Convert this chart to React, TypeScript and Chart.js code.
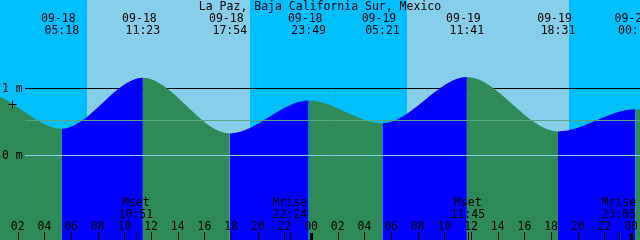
import React, { useEffect, useRef } from "react";
import { Chart, registerables } from "chart.js";

Chart.register(...registerables);

// ---- data ----
const title = "La Paz, Baja California Sur, Mexico";
const startTime = "09-18 00:40";
const endTime = "09-20 00:40";
const tideTimes = [
  "09-17 17:10", "09-17 23:24", "09-18 05:18", "09-18 11:23", "09-18 17:54",
  "09-18 23:49", "09-19 05:21", "09-19 11:41", "09-19 18:31", "09-20 00:19", "09-20 06:40",
];
const tideHeights = [0.3, 0.93, 0.39, 1.15, 0.32, 0.81, 0.47, 1.16, 0.35, 0.68, 0.55];
const sunriseTimes = ["09-18 07:12", "09-19 07:12"];
const sunsetTimes = ["09-18 19:24", "09-19 19:22"];
const moonNames = ["Mset", "Mrise", "Mset", "Mrise"];
const moonTimes = ["09-18 10:51", "09-18 22:24", "09-19 11:45", "09-19 23:05"];
const datumLevels = [1, 0];
const datumLabels = ["1 m", "0 m"];
const meanLevel = 0.52;
const markTime = "09-18 01:34";
const markHeight = 0.76;
const yMin = -1.27;
const yMax = 2.31;
const hourTickStep = 2;

const toHours = (s: string) => {
  const [md, hm] = s.split(" ");
  const day = parseInt(md.split("-")[1], 10);
  const [h, m] = hm.split(":").map((v) => parseInt(v, 10));
  return (day - 18) * 24 + h + m / 60;
};

const FONT = "11.5px 'DejaVu Sans Mono', 'Liberation Mono', monospace";
const NIGHT = "#00BFFF";
const DAY = "#87CEEB";
const RISE = "#0000FF";
const FALL = "#2E8B57";

export default function App() {
  const ref = useRef<HTMLCanvasElement | null>(null);

  useEffect(() => {
    if (!ref.current) return;
    const xMin = toHours(startTime);
    const xMax = toHours(endTime);
    const data = tideTimes.map((t, i) => ({ x: toHours(t), y: tideHeights[i] }));

    const decor = {
      id: "decor",
      beforeDatasetsDraw(chart: any) {
        const { ctx, chartArea, scales } = chart;
        const xs = scales.x;
        const ys = scales.y;
        ctx.save();
        // night background
        ctx.fillStyle = NIGHT;
        ctx.fillRect(chartArea.left, chartArea.top, chartArea.right - chartArea.left, chartArea.bottom - chartArea.top);
        ctx.fillStyle = DAY;
        sunriseTimes.forEach((r, i) => {
          const a = Math.round(xs.getPixelForValue(toHours(r)));
          const b = Math.round(xs.getPixelForValue(toHours(sunsetTimes[i])));
          ctx.fillRect(a, chartArea.top, b - a, chartArea.bottom - chartArea.top);
        });
        // upper datum line (under the tide)
        ctx.strokeStyle = "#000000";
        ctx.lineWidth = 1;
        const y1 = Math.round(ys.getPixelForValue(datumLevels[0])) + 0.5;
        ctx.beginPath();
        ctx.moveTo(25, y1);
        ctx.lineTo(chartArea.right, y1);
        ctx.stroke();
        ctx.restore();
      },
      afterDatasetsDraw(chart: any) {
        const { ctx, chartArea, scales } = chart;
        const xs = scales.x;
        const ys = scales.y;
        ctx.save();
        ctx.lineWidth = 1;
        // zero line
        const y0 = Math.round(ys.getPixelForValue(datumLevels[1])) + 0.5;
        ctx.strokeStyle = "#8ed3ec";
        ctx.beginPath();
        ctx.moveTo(25, y0);
        ctx.lineTo(chartArea.right, y0);
        ctx.stroke();
        // mean level
        const ym = Math.round(ys.getPixelForValue(meanLevel)) + 0.5;
        ctx.strokeStyle = "#5aa586";
        ctx.beginPath();
        ctx.moveTo(25, ym);
        ctx.lineTo(chartArea.right, ym);
        ctx.stroke();

        ctx.fillStyle = "#000000";
        ctx.strokeStyle = "#000000";
        ctx.font = FONT;
        // datum labels
        ctx.textAlign = "left";
        ctx.textBaseline = "middle";
        datumLevels.forEach((lv, i) => {
          ctx.fillText(datumLabels[i], 2, Math.round(ys.getPixelForValue(lv)) + 1);
        });
        // "+" mark
        const mx = Math.round(xs.getPixelForValue(toHours(markTime))) + 0.5;
        const my = Math.round(ys.getPixelForValue(markHeight)) + 0.5;
        ctx.beginPath();
        ctx.moveTo(mx - 4, my);
        ctx.lineTo(mx + 4, my);
        ctx.moveTo(mx, my - 4);
        ctx.lineTo(mx, my + 4);
        ctx.stroke();

        ctx.textBaseline = "alphabetic";
        ctx.textAlign = "center";
        // title
        ctx.fillText(title, (chartArea.left + chartArea.right) / 2, 10);
        // tide extreme labels
        tideTimes.forEach((t) => {
          const h = toHours(t);
          if (h < xMin || h > xMax) return;
          const x = xs.getPixelForValue(h);
          const [md, hm] = t.split(" ");
          ctx.fillText(md + " ", x, 22);
          ctx.fillText(hm, x, 34);
        });
        // moon events
        moonTimes.forEach((t, i) => {
          const h = toHours(t);
          const x = xs.getPixelForValue(h);
          ctx.fillText(moonNames[i], x, 206);
          ctx.fillText(t.split(" ")[1], x, 218);
          const px = Math.round(x) + 0.5;
          ctx.beginPath();
          ctx.moveTo(px, 232);
          ctx.lineTo(px, 240);
          ctx.stroke();
        });
        // hour ticks
        for (let h = Math.ceil(xMin / hourTickStep) * hourTickStep; h <= xMax; h += hourTickStep) {
          const x = xs.getPixelForValue(h);
          const hh = ((h % 24) + 24) % 24;
          ctx.fillText(String(hh).padStart(2, "0"), x, 230);
          if (hh === 0) {
            ctx.fillRect(Math.round(x) - 1, 233, 3, 7);
          } else {
            const px = Math.round(x) + 0.5;
            ctx.beginPath();
            ctx.moveTo(px, 232);
            ctx.lineTo(px, 240);
            ctx.stroke();
          }
        }
        ctx.restore();
      },
    };

    const chart = new Chart(ref.current, {
      type: "line",
      data: {
        datasets: [
          {
            data,
            fill: "start",
            borderWidth: 0,
            borderColor: "rgba(0,0,0,0)",
            backgroundColor: FALL,
            pointRadius: 0,
            cubicInterpolationMode: "monotone",
            segment: {
              backgroundColor: (c: any) => (c.p1.parsed.y > c.p0.parsed.y ? RISE : FALL),
            },
          } as any,
        ],
      },
      options: {
        animation: false,
        responsive: false,
        devicePixelRatio: 1,
        events: [],
        layout: { padding: 0 },
        plugins: { legend: { display: false }, tooltip: { enabled: false } },
        scales: {
          x: { type: "linear", min: xMin, max: xMax, display: false },
          y: { type: "linear", min: yMin, max: yMax, display: false },
        },
      },
      plugins: [decor],
    });
    return () => chart.destroy();
  }, []);

  return (
    <div style={{ position: "fixed", left: 0, top: 0, width: 640, height: 240 }}>
      <canvas ref={ref} width={640} height={240} style={{ display: "block", width: 640, height: 240 }} />
    </div>
  );
}
